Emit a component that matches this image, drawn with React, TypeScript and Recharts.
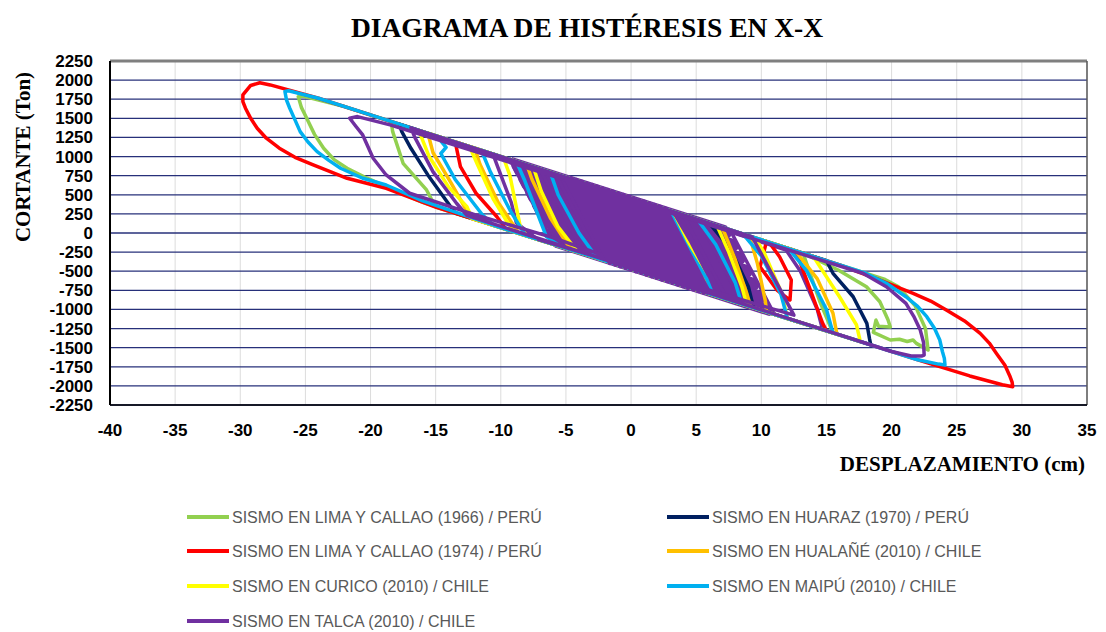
import React from "react";
import { CartesianGrid, Line, LineChart, ReferenceLine, XAxis, YAxis } from "recharts";

type Pt = [number, number];

const xTicks = [-40, -35, -30, -25, -20, -15, -10, -5, 0, 5, 10, 15, 20, 25, 30, 35];
const yTicks = [
  -2250, -2000, -1750, -1500, -1250, -1000, -750, -500, -250, 0, 250, 500, 750, 1000, 1250, 1500,
  1750, 2000, 2250,
];

const seriesNames = [
  "SISMO EN LIMA Y CALLAO (1966) / PERÚ",
  "SISMO EN HUARAZ (1970) / PERÚ",
  "SISMO EN LIMA Y CALLAO (1974) / PERÚ",
  "SISMO EN HUALAÑÉ (2010) / CHILE",
  "SISMO EN CURICO (2010) / CHILE",
  "SISMO EN MAIPÚ (2010) / CHILE",
  "SISMO EN TALCA (2010) / CHILE",
];

// desplazamiento (cm), cortante (Ton)
const lima1966: Pt[] = [
  [0, -10], [3, -632], [-0.4, 477], [-4.5, 700], [-1.1, -411], [5.5, -767], [2.1, 341],
  [-18.4, 1440], [-18.3, 1326], [-17.5, 912], [-15.7, 563], [-15, 340],
  [15.5, -1307], [14.5, -900], [13.2, -264],
  [15.9, -484], [18.07, -703], [19.1, -899], [19.73, -1139], [19.9, -1230], [19, -1220], [18.8, -1140],
  [18.6, -1300], [19.9, -1400], [20.6, -1390], [21.2, -1420], [21.65, -1400], [21.9, -1444], [22.8, -1531],
  [22.6, -1250], [21.8, -950], [20.5, -700], [19.5, -608],
  [-18, 1436], [-22, 1654], [-25.2, 1790], [-25.55, 1784], [-25.3, 1640], [-24.9, 1501], [-24.3, 1290],
  [-23.6, 1109], [-22.8, 960], [-21.8, 847], [-20.3, 720], [-18.8, 606],
  [-16, 400], [-12, 178], [-4, -254],
];

const huaraz1970: Pt[] = [
  [0, -10], [4, -686], [0.6, 422], [-4.5, 700], [-1.1, -411],
  [9.4, -978], [9, -700], [7.6, -200], [6, 128],
  [-17.8, 1425], [-17.6, 1326], [-16.9, 1108], [-15.6, 760], [-14.4, 475], [-13.5, 260],
  [18.4, -1464], [18.3, -1379], [18.1, -1182], [17.05, -834], [15.5, -527], [15, -363],
  [1, 401], [-3, 619], [0.4, -492],
];

const lima1974: Pt[] = [
  [0, -10], [4.5, -713], [1.1, 395], [-4.5, 700], [-1.1, -411], [5.5, -767], [2.1, 341],
  [-13.5, 1191], [-13.1, 868], [-11.9, 520], [-10.3, 213], [-9.6, 48],
  [15, -1280], [14.7, -1178], [13, -393], [12.5, -226],
  [10.4, -112], [9.9, -441], [11.2, -746], [12.2, -877], [12.3, -615], [11.4, -310], [10.6, -123],
  [-19.3, 1507], [-24, 1763], [-27.7, 1937], [-28.5, 1965], [-29.2, 1930], [-29.8, 1806], [-29.8, 1720],
  [-29.6, 1632], [-29.2, 1500], [-28.7, 1370], [-28, 1240], [-27, 1109], [-25.8, 990], [-24.4, 890],
  [-23, 795], [-21.8, 716], [-18.8, 585], [-15, 340], [-10, 70],
  [17.8, -1431], [22.2, -1669], [26, -1870], [28.5, -1985], [29.1, -2005], [29.3, -2011],
  [29.25, -1950], [29.1, -1881], [28.7, -1730], [28.05, -1575], [27.5, -1440], [26.8, -1313],
  [25.6, -1150], [24.2, -1008], [23, -890], [21.65, -789], [19.1, -615], [16, -417],
  [3, 292], [5.5, -767],
];

const hualane2010: Pt[] = [
  [0, -10], [3.5, -659], [0.1, 450], [-8, 891], [-7.6, 700], [-6.2, 200], [-4.6, -222],
  [9.2, -967], [8.9, -800], [8, -350], [7, 74],
  [-12, 1109], [-11.6, 900], [-10.2, 400], [-8.6, -6],
  [10.4, -1032], [10.3, -880], [9.7, -400], [9.1, -41],
  [-15.6, 1305], [-15.2, 1050], [-13.8, 650], [-12.3, 195],
  [15.8, -1323], [15.5, -1050], [14.3, -600], [12.6, -232],
  [1, 401], [-2, 0],
];

const curico2010: Pt[] = [
  [0, -10], [6.05, -797], [5.6, -550], [4.4, -150], [3.2, 200], [2.6, 312],
  [-7.5, 864], [-6.9, 550], [-5.6, 80], [-4.1, -249],
  [8.9, -951], [8.5, -700], [7.5, -250], [6.6, 95],
  [-9.8, 989], [-9.3, 750], [-8.5, 82], [-8, -38],
  [12, -1118], [11.6, -800], [10.2, -250], [9.5, -63],
  [-12.4, 1131], [-11.8, 900], [-10.6, 450], [-9.6, 170], [-9, 16],
  [17.6, -1420], [17.3, -1200], [16, -834], [14.8, -520], [14, -308],
  [-16.3, 1343], [-15.5, 1000], [-14, 600], [-12.6, 344], [-12.2, 189],
  [3, -632], [1, 401],
];

const maipu2010: Pt[] = [
  [0, -10], [2.9, -627], [-0.5, 482], [-4, 673], [-0.6, -438],
  [6.3, -810], [5.8, -600], [4.2, -150], [2.9, 297],
  [-6.2, 793], [-5.6, 500], [-4, 0], [-2.6, -330],
  [8.5, -929], [8, -650], [6.5, -150], [5.1, 177],
  [-8.8, 935], [-8.2, 700], [-6.5, -48], [-5.4, -178],
  [12, -1118], [11.5, -800], [10, -300], [8.6, -14],
  [-11.5, 1082], [-10.8, 800], [-9.3, 300], [-8.1, -33],
  [15.5, -1307], [15, -1000], [13.5, -500], [12.1, -204],
  [-14.9, 1267], [-14.2, 1120], [-14.6, 1040], [-13.5, 700], [-11.4, 236], [-10.5, 97],
  [22, -1658], [23.6, -1715], [24.1, -1728], [24.05, -1640], [23.9, -1550], [23.7, -1400], [23.3, -1250],
  [22.7, -1095], [22, -960], [21.1, -834], [19.6, -658], [18, -526],
  [-20, 1545], [-24, 1763], [-26.3, 1860], [-26.57, 1850], [-26.45, 1740], [-26.2, 1632], [-25.8, 1480],
  [-25.4, 1326], [-24.8, 1190], [-24.1, 1064], [-23.2, 950], [-22.3, 847], [-20.6, 716], [-18.8, 628],
  [-16, 420], [-10, 70], [-2, -362],
];

// Talca: cycles inside the band (drawn under the other records)
const talca2010Mid: Pt[] = [
  [-1, 0], [7.4, -870], [4, 237], [-5.8, 771], [-2.4, -340],
  [8.6, -934], [5.2, 172], [-7, 837], [-3.6, -276],
  [9.8, -999], [6.4, 106], [-8.2, 902], [-4.8, -211],
  [11, -1064], [7.6, 41], [-9.3, 962], [-5.9, -151],
  [14.7, -1264], [14.3, -1000], [13, -500], [11.9, -223],
  [-10.6, 1033], [-10.2, 850], [-9.2, 400], [-8.8, 131], [-7.2, -81],
];

// Talca: outer cycles
const talca2010: Pt[] = [
  [-7.2, -81], [12.5, -1075], [9.3, -52],
  [-16.9, 1376], [-16.6, 1250], [-15.2, 800], [-13.4, 389], [-12.6, 230],
  [20, -1550], [21.5, -1610], [22.3, -1610], [22.5, -1597], [22.45, -1430], [22.2, -1270], [21.7, -1090],
  [21.1, -921], [19.6, -703], [17.8, -527],
  [-18.5, 1414], [-21, 1523], [-21.6, 1501], [-21.1, 1390], [-20.6, 1283], [-19.8, 978], [-18.8, 759], [-17, 520],
  [-12, 240], [-6, -60], [0, -420],
];

// Talca: small cycles that fill the band between about -9 and 10 cm
const talca2010Band: Pt[] = [
  [-9.2, 956], [7.2, 63], [7.46, -23], [-8.94, 871], [-8.68, 786], [7.72, -108], [7.99, -193],
  [-8.42, 701], [-8.16, 616], [8.25, -279], [8.51, -364], [-7.9, 531], [-7.64, 445], [8.77, -449],
  [9.04, -535], [-7.38, 360], [-7.12, 275], [9.3, -620], [9.56, -705], [-6.86, 190], [-6.6, 105],
  [9.82, -790], [10.09, -876], [-6.34, 20], [-6.07, -66], [10.35, -961], [10.61, -1046], [-5.81, -151],
];

// Talca: the dense cycles around the origin
const talca2010Core: Pt[] = [
  [-5, 728], [-1.6, -384], [-4.6, 706], [-1.2, -405], [-4.2, 684], [-0.8, -427], [-3.8, 662], [-0.4, -448],
  [-3.4, 640], [0, -470], [-3, 619], [0.4, -492], [-2.6, 597], [0.8, -513], [-2.2, 575], [1.2, -535],
  [-1.8, 553], [1.6, -556], [-1.4, 531], [2, -578], [-1, 510], [2.4, -600], [-0.6, 488], [2.8, -621],
  [-0.2, 466], [3.2, -643], [0.2, 444], [3.6, -664], [0.6, 422], [4, -686], [1, 401], [4.4, -708],
  [1.4, 379], [4.8, -729], [1.8, 357], [5.2, -751], [2.2, 335], [5.6, -772], [2.6, 313], [6, -794],
];

const seriesData = [lima1966, huaraz1970, lima1974, hualane2010, curico2010, maipu2010, talca2010];
const colors = ["#92D050", "#002060", "#FF0000", "#FFC000", "#FFFF00", "#00B0F0", "#7030A0"];

const toRows = (pts: Pt[]) => pts.map(([x, y]) => ({ x, y }));

const tickStyle = { fontFamily: "'Liberation Sans', Arial, sans-serif", fontWeight: 700, fontSize: 17, fill: "#000" };
const serif = "'Liberation Serif', 'Times New Roman', serif";

const talcaLine = (pts: Pt[], key: string, width: number) => (
  <Line
    key={key}
    data={toRows(pts)}
    dataKey="y"
    name={key}
    type="linear"
    stroke={colors[6]}
    strokeWidth={width}
    strokeLinejoin="round"
    dot={false}
    activeDot={false}
    isAnimationActive={false}
  />
);

export default function App() {
  return (
    <div style={{ position: "absolute", left: 0, top: 0, width: 1106, height: 632, background: "#fff" }}>
      <LineChart width={1106} height={632} margin={{ top: 61, right: 19, bottom: 197, left: 0 }}>
        <CartesianGrid horizontal={false} stroke="#dcdcdc" strokeWidth={1} />
        <CartesianGrid vertical={false} stroke="#27307a" strokeWidth={1.3} />
        <XAxis
          type="number"
          dataKey="x"
          domain={[-40, 35]}
          ticks={xTicks}
          interval={0}
          height={30}
          tickSize={0}
          tickMargin={19}
          tick={tickStyle}
          axisLine={{ stroke: "#000", strokeWidth: 1.5 }}
        />
        <YAxis
          type="number"
          dataKey="y"
          domain={[-2250, 2250]}
          ticks={yTicks}
          interval={0}
          width={110}
          tickSize={0}
          tickMargin={17}
          tick={tickStyle}
          axisLine={{ stroke: "#000", strokeWidth: 2 }}
        />
        <ReferenceLine y={2250} stroke="#7f7f7f" strokeWidth={3} />
        <ReferenceLine x={35} stroke="#595959" strokeWidth={1.5} />
        {talcaLine(talca2010Band, "talca-band", 6)}
        {talcaLine(talca2010Mid, "talca-mid", 3.5)}
        {seriesData.map((pts, i) => (
          <Line
            key={seriesNames[i]}
            data={toRows(pts)}
            dataKey="y"
            name={seriesNames[i]}
            type="linear"
            stroke={colors[i]}
            strokeWidth={3.5}
            strokeLinejoin="round"
            dot={false}
            activeDot={false}
            isAnimationActive={false}
          />
        ))}
        {talcaLine(talca2010Core, "talca-core", 5.5)}
      </LineChart>
      <svg
        width={1106}
        height={632}
        style={{ position: "absolute", left: 0, top: 0, pointerEvents: "none" }}
      >
        <text x={587} y={37} textAnchor="middle" fontFamily={serif} fontWeight={700} fontSize={27.5} fill="#000">
          DIAGRAMA DE HISTÉRESIS EN X-X
        </text>
        <text
          transform="translate(30,157) rotate(-90)"
          textAnchor="middle"
          fontFamily={serif}
          fontWeight={700}
          fontSize={21}
          fill="#000"
        >
          CORTANTE (Ton)
        </text>
        <text x={1085} y={471} textAnchor="end" fontFamily={serif} fontWeight={700} fontSize={21} fill="#000">
          DESPLAZAMIENTO (cm)
        </text>
        {seriesNames.map((name, i) => {
          const col = i % 2;
          const row = Math.floor(i / 2);
          const cy = [517, 551, 586, 621][row];
          const x0 = col === 0 ? 187 : 667;
          return (
            <g key={name}>
              <line x1={x0} x2={x0 + 42} y1={cy} y2={cy} stroke={colors[i]} strokeWidth={4} />
              <text
                x={x0 + 45}
                y={cy + 5.5}
                fontFamily="'Liberation Sans', Arial, sans-serif"
                fontSize={16}
                fill="#595959"
              >
                {name}
              </text>
            </g>
          );
        })}
      </svg>
    </div>
  );
}
